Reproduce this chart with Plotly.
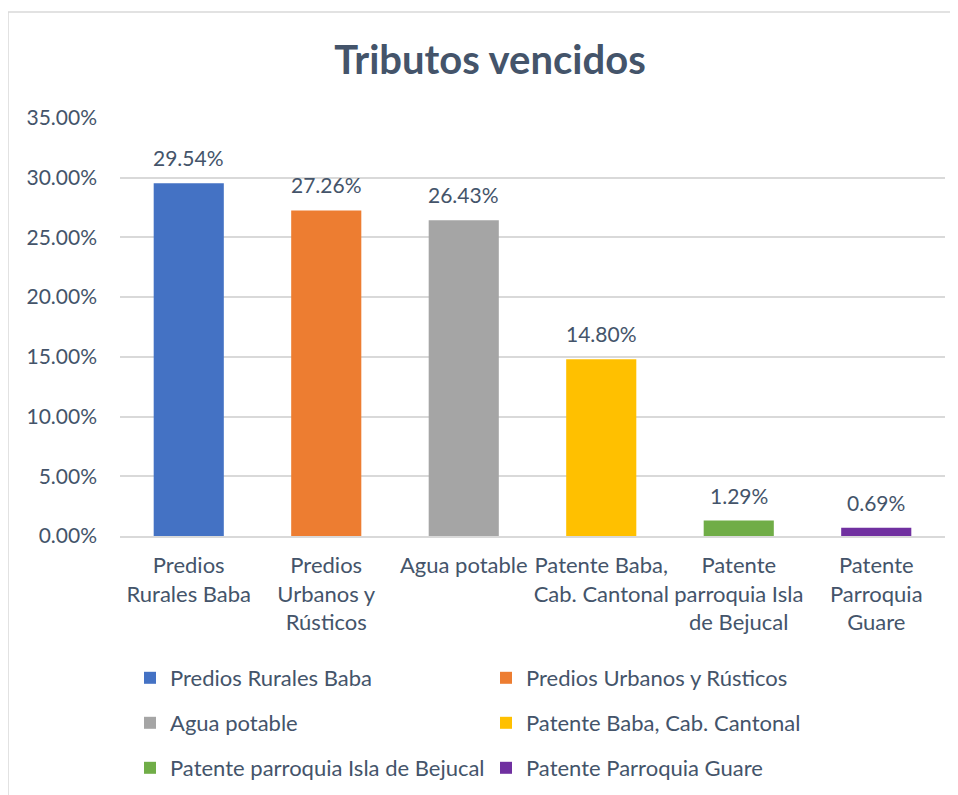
import plotly.graph_objects as go

categories = ["Predios Rurales Baba", "Predios Urbanos y Rústicos", "Agua potable",
              "Patente Baba, Cab. Cantonal", "Patente parroquia Isla de Bejucal",
              "Patente Parroquia Guare"]
tick_labels = ["Predios<br>Rurales Baba", "Predios<br>Urbanos y<br>Rústicos", "Agua potable",
               "Patente Baba,<br>Cab. Cantonal", "Patente<br>parroquia Isla<br>de Bejucal",
               "Patente<br>Parroquia<br>Guare"]
values = [0.2954, 0.2726, 0.2643, 0.1480, 0.0129, 0.0069]
colors = ["#4472C4", "#ED7D31", "#A5A5A5", "#FFC000", "#70AD47", "#7030A0"]
legend_ids = ["legend", "legend", "legend2", "legend2", "legend3", "legend3"]

TXT = "#44546A"
FONT = "Lato"

fig = go.Figure()
for cat, v, c, lg in zip(categories, values, colors, legend_ids):
    fig.add_trace(go.Bar(x=[cat], y=[v], name=cat, marker=dict(color=c, line=dict(width=0)),
                         width=0.51, legend=lg))
    fig.add_annotation(x=cat, y=v, text=f"{v*100:.2f}%", showarrow=False, yanchor="bottom",
                       yshift=11, font=dict(family=FONT, size=21, color=TXT))

# page body adds an 8px offset; work in reference pixel coords minus 8
OFF = 8
W, H = 950, 787
L, T = 120 - OFF, 118 - OFF
pw, ph = 825, 418
R = W - L - pw
B = H - T - ph

def py(pix):
    return (T + ph - (pix - OFF)) / ph

def px(pix):
    return ((pix - OFF) - L) / pw

leg_common = dict(orientation="h", x=px(130), xanchor="left", yanchor="middle",
                  entrywidth=311, entrywidthmode="pixels", itemwidth=30,
                  font=dict(family=FONT, size=22, color=TXT), bgcolor="rgba(0,0,0,0)")

fig.update_layout(
    width=W, height=H,
    margin=dict(l=L, r=R, t=T, b=B, autoexpand=False),
    paper_bgcolor="white", plot_bgcolor="white",
    barmode="overlay",
    showlegend=True,
    title=dict(text="<b>Tributos vencidos</b>", xref="container", x=(490 - OFF) / W,
               xanchor="center", yref="container", y=1 - (60 - OFF) / H, yanchor="middle",
               font=dict(family=FONT, size=40, color=TXT)),
    font=dict(family=FONT, size=21, color=TXT),
    legend=dict(y=py(678), **leg_common),
    legend2=dict(y=py(723), **leg_common),
    legend3=dict(y=py(768), **leg_common),
    shapes=[dict(type="rect", xref="paper", yref="paper", x0=px(8), x1=px(1000),
                 y0=py(820), y1=py(12), line=dict(color="#D9D9D9", width=1.5),
                 fillcolor="rgba(0,0,0,0)", layer="below")],
)
fig.update_xaxes(tickmode="array", tickvals=categories, ticktext=tick_labels,
                 showline=True, linecolor="#D9D9D9", linewidth=1.5, ticks="",
                 ticklabelstandoff=9, tickfont=dict(family=FONT, size=22, color=TXT),
                 showgrid=False)
fig.update_yaxes(range=[0, 0.35], dtick=0.05, tickformat=".2%", showgrid=True,
                 gridcolor="#D9D9D9", gridwidth=1.5, zeroline=False, showline=False,
                 ticks="", ticklabelstandoff=22, tickfont=dict(family=FONT, size=21, color=TXT))

fig.write_html("out.html")
